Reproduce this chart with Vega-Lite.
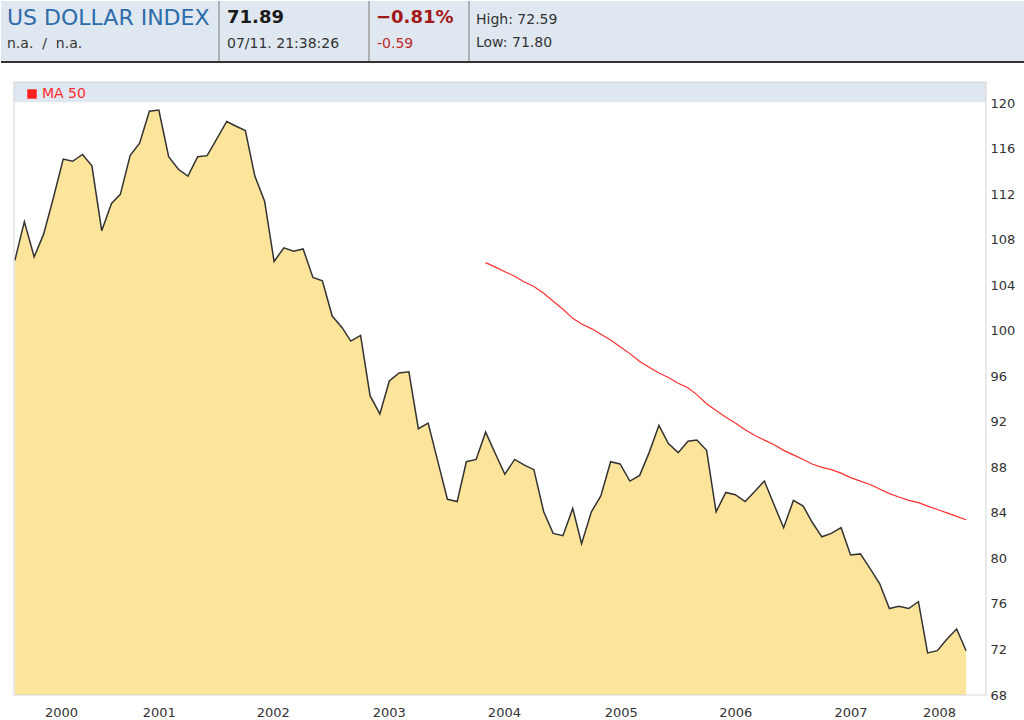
{
  "$schema": "https://vega.github.io/schema/vega-lite/v6.json",
  "padding": 0,
  "spacing": 18,
  "background": "white",
  "config": {
    "font": "DejaVu Sans",
    "view": {"stroke": null},
    "legend": {
      "orient": "none",
      "legendX": 24,
      "legendY": 86,
      "symbolType": "square",
      "symbolSize": 90,
      "symbolFillColor": "#ff2020",
      "symbolStrokeColor": "#ff2020",
      "symbolStrokeWidth": 0,
      "labelColor": "#ff2a2a",
      "labelFont": "DejaVu Sans",
      "labelFontSize": 14,
      "labelOffset": 3,
      "padding": 0
    }
  },
  "vconcat": [
    {
      "width": 1024,
      "height": 62,
      "view": {"fill": "#dfe7f1", "stroke": null},
      "data": {
        "values": [
          {"x": 6, "y": 17, "t": "US DOLLAR INDEX", "s": "title"},
          {"x": 6, "y": 43, "t": "n.a.\u00a0\u00a0/\u00a0\u00a0n.a.", "s": "small"},
          {"x": 226, "y": 17, "t": "71.89", "s": "big"},
          {"x": 226, "y": 43, "t": "07/11. 21:38:26", "s": "small"},
          {"x": 375, "y": 17, "t": "−0.81%", "s": "pct"},
          {"x": 376, "y": 43, "t": "-0.59", "s": "smallred"},
          {"x": 475, "y": 19, "t": "High: 72.59", "s": "small"},
          {"x": 475, "y": 42, "t": "Low: 71.80", "s": "small"},
          {"x": 218, "x2": 218, "y": 0, "y2": 60, "s": "sep"},
          {"x": 368, "x2": 368, "y": 0, "y2": 60, "s": "sep"},
          {"x": 468, "x2": 468, "y": 0, "y2": 60, "s": "sep"},
          {"x": 0, "x2": 1024, "y": 61, "y2": 61, "s": "base"}
        ]
      },
      "encoding": {
        "x": {"field": "x", "type": "quantitative", "scale": {"domain": [0, 1024]}, "axis": null},
        "y": {"field": "y", "type": "quantitative", "scale": {"domain": [0, 62], "reverse": true}, "axis": null}
      },
      "layer": [
        {
          "transform": [{"filter": "datum.s == 'title'"}],
          "mark": {"type": "text", "align": "left", "baseline": "middle", "fontSize": 22, "color": "#2d6ba9"},
          "encoding": {"text": {"field": "t"}}
        },
        {
          "transform": [{"filter": "datum.s == 'big'"}],
          "mark": {"type": "text", "align": "left", "baseline": "middle", "fontSize": 18, "fontWeight": "bold", "color": "#1a1a1a"},
          "encoding": {"text": {"field": "t"}}
        },
        {
          "transform": [{"filter": "datum.s == 'pct'"}],
          "mark": {"type": "text", "align": "left", "baseline": "middle", "fontSize": 18, "fontWeight": "bold", "color": "#a31818"},
          "encoding": {"text": {"field": "t"}}
        },
        {
          "transform": [{"filter": "datum.s == 'small'"}],
          "mark": {"type": "text", "align": "left", "baseline": "middle", "fontSize": 14, "color": "#333333"},
          "encoding": {"text": {"field": "t"}}
        },
        {
          "transform": [{"filter": "datum.s == 'smallred'"}],
          "mark": {"type": "text", "align": "left", "baseline": "middle", "fontSize": 14, "color": "#c0282a"},
          "encoding": {"text": {"field": "t"}}
        },
        {
          "transform": [{"filter": "datum.s == 'sep'"}],
          "mark": {"type": "rule", "color": "#9c9c9c", "strokeWidth": 1.5},
          "encoding": {"x2": {"field": "x2"}, "y2": {"field": "y2"}}
        },
        {
          "transform": [{"filter": "datum.s == 'base'"}],
          "mark": {"type": "rule", "color": "#333333", "strokeWidth": 2},
          "encoding": {"x2": {"field": "x2"}, "y2": {"field": "y2"}}
        }
      ]
    },
    {
      "width": 985,
      "height": 613,
      "data": {
        "values": [
          {"date": "2000-04-01", "value": 106.2, "ma": null},
          {"date": "2000-05-01", "value": 109.6, "ma": null},
          {"date": "2000-06-01", "value": 106.5, "ma": null},
          {"date": "2000-07-01", "value": 108.5, "ma": null},
          {"date": "2000-08-01", "value": 111.7, "ma": null},
          {"date": "2000-09-01", "value": 115.1, "ma": null},
          {"date": "2000-10-01", "value": 114.9, "ma": null},
          {"date": "2000-11-01", "value": 115.5, "ma": null},
          {"date": "2000-12-01", "value": 114.5, "ma": null},
          {"date": "2001-01-01", "value": 108.8, "ma": null},
          {"date": "2001-02-01", "value": 111.2, "ma": null},
          {"date": "2001-03-01", "value": 112.0, "ma": null},
          {"date": "2001-04-01", "value": 115.4, "ma": null},
          {"date": "2001-05-01", "value": 116.5, "ma": null},
          {"date": "2001-06-01", "value": 119.3, "ma": null},
          {"date": "2001-07-01", "value": 119.4, "ma": null},
          {"date": "2001-08-01", "value": 115.3, "ma": null},
          {"date": "2001-09-01", "value": 114.2, "ma": null},
          {"date": "2001-10-01", "value": 113.6, "ma": null},
          {"date": "2001-11-01", "value": 115.3, "ma": null},
          {"date": "2001-12-01", "value": 115.4, "ma": null},
          {"date": "2002-01-01", "value": 116.9, "ma": null},
          {"date": "2002-02-01", "value": 118.4, "ma": null},
          {"date": "2002-03-01", "value": 118.0, "ma": null},
          {"date": "2002-04-01", "value": 117.6, "ma": null},
          {"date": "2002-05-01", "value": 113.6, "ma": null},
          {"date": "2002-06-01", "value": 111.4, "ma": null},
          {"date": "2002-07-01", "value": 106.1, "ma": null},
          {"date": "2002-08-01", "value": 107.3, "ma": null},
          {"date": "2002-09-01", "value": 107.0, "ma": null},
          {"date": "2002-10-01", "value": 107.2, "ma": null},
          {"date": "2002-11-01", "value": 104.7, "ma": null},
          {"date": "2002-12-01", "value": 104.4, "ma": null},
          {"date": "2003-01-01", "value": 101.3, "ma": null},
          {"date": "2003-02-01", "value": 100.3, "ma": null},
          {"date": "2003-03-01", "value": 99.1, "ma": null},
          {"date": "2003-04-01", "value": 99.6, "ma": null},
          {"date": "2003-05-01", "value": 94.3, "ma": null},
          {"date": "2003-06-01", "value": 92.7, "ma": null},
          {"date": "2003-07-01", "value": 95.6, "ma": null},
          {"date": "2003-08-01", "value": 96.3, "ma": null},
          {"date": "2003-09-01", "value": 96.4, "ma": null},
          {"date": "2003-10-01", "value": 91.4, "ma": null},
          {"date": "2003-11-01", "value": 91.9, "ma": null},
          {"date": "2003-12-01", "value": 88.6, "ma": null},
          {"date": "2004-01-01", "value": 85.2, "ma": null},
          {"date": "2004-02-01", "value": 85.0, "ma": null},
          {"date": "2004-03-01", "value": 88.5, "ma": null},
          {"date": "2004-04-01", "value": 88.7, "ma": null},
          {"date": "2004-05-01", "value": 91.1, "ma": 106.0},
          {"date": "2004-06-01", "value": 89.2, "ma": 105.6},
          {"date": "2004-07-01", "value": 87.4, "ma": 105.2},
          {"date": "2004-08-01", "value": 88.7, "ma": 104.8},
          {"date": "2004-09-01", "value": 88.2, "ma": 104.3},
          {"date": "2004-10-01", "value": 87.8, "ma": 103.9},
          {"date": "2004-11-01", "value": 84.1, "ma": 103.3},
          {"date": "2004-12-01", "value": 82.2, "ma": 102.6},
          {"date": "2005-01-01", "value": 82.0, "ma": 101.9},
          {"date": "2005-02-01", "value": 84.4, "ma": 101.1},
          {"date": "2005-03-01", "value": 81.3, "ma": 100.6},
          {"date": "2005-04-01", "value": 84.1, "ma": 100.2},
          {"date": "2005-05-01", "value": 85.5, "ma": 99.7},
          {"date": "2005-06-01", "value": 88.5, "ma": 99.2},
          {"date": "2005-07-01", "value": 88.3, "ma": 98.6},
          {"date": "2005-08-01", "value": 86.8, "ma": 98.0},
          {"date": "2005-09-01", "value": 87.3, "ma": 97.3},
          {"date": "2005-10-01", "value": 89.3, "ma": 96.8},
          {"date": "2005-11-01", "value": 91.7, "ma": 96.3},
          {"date": "2005-12-01", "value": 90.1, "ma": 95.9},
          {"date": "2006-01-01", "value": 89.3, "ma": 95.4},
          {"date": "2006-02-01", "value": 90.3, "ma": 95.0},
          {"date": "2006-03-01", "value": 90.4, "ma": 94.4},
          {"date": "2006-04-01", "value": 89.5, "ma": 93.6},
          {"date": "2006-05-01", "value": 84.1, "ma": 93.0},
          {"date": "2006-06-01", "value": 85.8, "ma": 92.4},
          {"date": "2006-07-01", "value": 85.6, "ma": 91.9},
          {"date": "2006-08-01", "value": 85.0, "ma": 91.3},
          {"date": "2006-09-01", "value": 85.9, "ma": 90.8},
          {"date": "2006-10-01", "value": 86.8, "ma": 90.4},
          {"date": "2006-11-01", "value": 84.7, "ma": 90.0},
          {"date": "2006-12-01", "value": 82.7, "ma": 89.5},
          {"date": "2007-01-01", "value": 85.1, "ma": 89.1},
          {"date": "2007-02-01", "value": 84.6, "ma": 88.7},
          {"date": "2007-03-01", "value": 83.2, "ma": 88.3},
          {"date": "2007-04-01", "value": 81.9, "ma": 88.0},
          {"date": "2007-05-01", "value": 82.2, "ma": 87.8},
          {"date": "2007-06-01", "value": 82.7, "ma": 87.5},
          {"date": "2007-07-01", "value": 80.3, "ma": 87.1},
          {"date": "2007-08-01", "value": 80.4, "ma": 86.8},
          {"date": "2007-09-01", "value": 79.1, "ma": 86.5},
          {"date": "2007-10-01", "value": 77.8, "ma": 86.1},
          {"date": "2007-11-01", "value": 75.6, "ma": 85.7},
          {"date": "2007-12-01", "value": 75.8, "ma": 85.4},
          {"date": "2008-01-01", "value": 75.6, "ma": 85.1},
          {"date": "2008-02-01", "value": 76.2, "ma": 84.9},
          {"date": "2008-03-01", "value": 71.7, "ma": 84.6},
          {"date": "2008-04-01", "value": 71.9, "ma": 84.3},
          {"date": "2008-05-01", "value": 72.9, "ma": 84.0},
          {"date": "2008-06-01", "value": 73.8, "ma": 83.7},
          {"date": "2008-07-01", "value": 71.89, "ma": 83.4}
        ]
      },
      "layer": [
        {
          "data": {"values": [{}]},
          "mark": {"type": "rect", "color": "#dfe7f1"},
          "encoding": {
            "x": {"datum": {"year": 2000, "month": 3, "date": 29}, "type": "temporal"},
            "x2": {"datum": {"year": 2008, "month": 9, "date": 2}},
            "y": {"datum": 120.1, "type": "quantitative"},
            "y2": {"datum": 121.87}
          }
        },
        {
          "mark": {"type": "area", "color": "#fde49b", "opacity": 1, "clip": true, "line": {"color": "#333333", "strokeWidth": 1.5}},
          "encoding": {
            "x": {
              "field": "date",
              "type": "temporal",
              "scale": {"domain": [{"year": 2000, "month": 2, "date": 17}, {"year": 2008, "month": 9, "date": 2}]},
              "axis": {
                "values": [
                  {"year": 2000, "month": 8, "date": 25},
                  {"year": 2001, "month": 7, "date": 1},
                  {"year": 2002, "month": 6, "date": 27},
                  {"year": 2003, "month": 6, "date": 29},
                  {"year": 2004, "month": 6, "date": 28},
                  {"year": 2005, "month": 7, "date": 3},
                  {"year": 2006, "month": 7, "date": 1},
                  {"year": 2007, "month": 7, "date": 1},
                  {"year": 2008, "month": 4, "date": 6}
                ],
                "format": "%Y",
                "ticks": false,
                "domain": false,
                "grid": false,
                "title": null,
                "labelFontSize": 13,
                "labelColor": "#333333",
                "labelPadding": 11,
                "labelFlush": false,
                "labelOverlap": false
              }
            },
            "y": {
              "field": "value",
              "type": "quantitative",
              "scale": {"domain": [68, 121.87], "nice": false, "zero": false},
              "axis": {
                "orient": "right",
                "values": [68, 72, 76, 80, 84, 88, 92, 96, 100, 104, 108, 112, 116, 120],
                "ticks": false,
                "domain": false,
                "grid": false,
                "title": null,
                "labelFontSize": 13,
                "labelColor": "#333333",
                "labelPadding": 4
              }
            }
          }
        },
        {
          "mark": {"type": "line", "strokeWidth": 1.2},
          "encoding": {
            "x": {"field": "date", "type": "temporal"},
            "y": {"field": "ma", "type": "quantitative"},
            "color": {
              "datum": "MA 50",
              "type": "nominal",
              "scale": {"range": ["#ff3030"]},
              "legend": {"title": null}
            }
          }
        },
        {
          "data": {"values": [{}]},
          "mark": {"type": "rect", "fill": null, "fillOpacity": 0, "stroke": "#d4d4d4", "strokeWidth": 1},
          "encoding": {
            "x": {"datum": {"year": 2000, "month": 3, "date": 29}, "type": "temporal"},
            "x2": {"datum": {"year": 2008, "month": 9, "date": 2}},
            "y": {"datum": 68, "type": "quantitative"},
            "y2": {"datum": 121.87}
          }
        }
      ]
    }
  ]
}
